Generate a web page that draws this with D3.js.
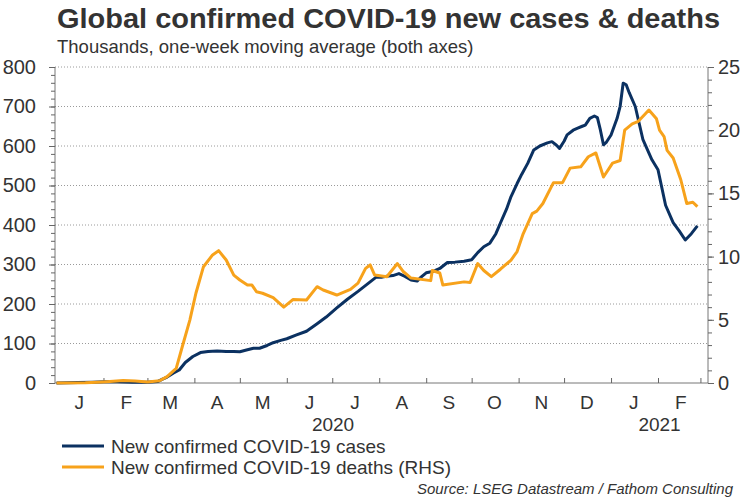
<!DOCTYPE html>
<html><head><meta charset="utf-8">
<script src="https://cdn.jsdelivr.net/npm/d3@7"></script>
<style>
body{margin:0;background:#fff}
text{font-family:"Liberation Sans",Arial,sans-serif;fill:#333}
</style>
</head><body>
<svg id="chart" width="750" height="500"></svg>
<script>
const caseDates = ["2020-01-01","2020-01-15","2020-01-25","2020-02-01","2020-02-10","2020-02-20","2020-03-01","2020-03-08","2020-03-11","2020-03-14","2020-03-18","2020-03-22","2020-03-26","2020-03-31","2020-04-05","2020-04-10","2020-04-16","2020-04-22","2020-04-27","2020-05-01","2020-05-06","2020-05-10","2020-05-14","2020-05-19","2020-05-23","2020-05-28","2020-06-01","2020-06-07","2020-06-14","2020-06-21","2020-06-27","2020-07-04","2020-07-11","2020-07-18","2020-07-22","2020-07-26","2020-07-30","2020-08-03","2020-08-06","2020-08-10","2020-08-14","2020-08-18","2020-08-22","2020-08-26","2020-08-28","2020-09-01","2020-09-06","2020-09-10","2020-09-15","2020-09-20","2020-09-26","2020-10-01","2020-10-05","2020-10-09","2020-10-13","2020-10-17","2020-10-20","2020-10-24","2020-10-27","2020-10-31","2020-11-03","2020-11-07","2020-11-11","2020-11-15","2020-11-20","2020-11-23","2020-11-26","2020-11-28","2020-12-01","2020-12-03","2020-12-07","2020-12-10","2020-12-13","2020-12-15","2020-12-18","2020-12-21","2020-12-23","2020-12-25","2020-12-27","2020-12-29","2021-01-01","2021-01-05","2021-01-07","2021-01-09","2021-01-11","2021-01-13","2021-01-17","2021-01-22","2021-01-28","2021-02-01","2021-02-06","2021-02-11","2021-02-15","2021-02-19","2021-02-23","2021-02-27"];
const caseValues = [0,1,2,3,3,2,2,4,10,15,25,33,52,67,77,80,81,80,80,79,84,88,88,95,102,108,112,121,131,150,167,190,212,232,244,256,268,268,270,272,277,270,261,258,266,279,283,290,305,306,308,312,330,345,354,378,405,440,472,505,528,556,590,600,608,611,602,594,612,628,640,645,650,653,670,676,672,640,603,610,628,670,700,759,755,735,700,617,565,540,450,406,385,362,378,398];

const deathDates = ["2020-01-01","2020-01-20","2020-01-28","2020-02-03","2020-02-14","2020-02-22","2020-03-01","2020-03-09","2020-03-14","2020-03-20","2020-03-24","2020-03-29","2020-04-02","2020-04-07","2020-04-13","2020-04-17","2020-04-22","2020-04-27","2020-05-01","2020-05-06","2020-05-09","2020-05-12","2020-05-16","2020-05-23","2020-05-30","2020-06-05","2020-06-14","2020-06-21","2020-06-25","2020-07-04","2020-07-13","2020-07-18","2020-07-23","2020-07-26","2020-07-29","2020-08-06","2020-08-13","2020-08-17","2020-08-22","2020-09-04","2020-09-05","2020-09-10","2020-09-12","2020-09-26","2020-09-30","2020-10-05","2020-10-09","2020-10-14","2020-10-20","2020-10-27","2020-10-31","2020-11-04","2020-11-10","2020-11-13","2020-11-17","2020-11-24","2020-11-30","2020-12-05","2020-12-12","2020-12-17","2020-12-22","2020-12-27","2021-01-02","2021-01-07","2021-01-10","2021-01-15","2021-01-19","2021-01-26","2021-01-31","2021-02-02","2021-02-05","2021-02-07","2021-02-11","2021-02-16","2021-02-20","2021-02-24","2021-02-27"];
const deathValues = [0,0.02,0.06,0.1,0.2,0.15,0.08,0.18,0.5,1.16,2.87,4.98,7.1,9.2,10.13,10.47,9.73,8.54,8.15,7.75,7.75,7.22,7.1,6.75,6.0,6.6,6.57,7.62,7.36,6.96,7.4,7.9,9.07,9.34,8.54,8.41,9.45,8.8,8.3,8.1,8.9,8.7,7.75,8.0,7.95,9.45,8.9,8.41,9.0,9.73,10.4,11.8,13.4,13.6,14.2,15.85,15.85,17.0,17.1,17.9,18.2,16.3,17.4,17.6,20.0,20.5,20.7,21.6,20.9,20.0,19.5,18.4,17.8,16.1,14.2,14.3,13.95];

const monthLabels = ["J","F","M","A","M","J","J","A","S","O","N","D","J","F"];
const yearLabels = ["2020","2021"];
const leftTicks = [0,100,200,300,400,500,600,700,800];
const rightTicks = [0,5,10,15,20,25];
const seriesNames = ["New confirmed COVID-19 cases","New confirmed COVID-19 deaths (RHS)"];
const titleText = "Global confirmed COVID-19 new cases & deaths";
const subtitleText = "Thousands, one-week moving average (both axes)";
const sourceText = "Source: LSEG Datastream / Fathom Consulting";

const NAVY = "#0b3161", ORANGE = "#f7a21b";
const parse = d3.timeParse("%Y-%m-%d");
const L = 55, R = 708, T = 67, B = 383;

const svg = d3.select("#chart");
const x = d3.scaleTime().domain([parse("2019-12-31"), parse("2021-03-06")]).range([L, R]);
const yL = d3.scaleLinear().domain([0, 800]).range([B, T]);
const yR = d3.scaleLinear().domain([0, 25]).range([B, T]);

// title
svg.append("text").attr("x", 57).attr("y", 28).attr("font-size", 28).attr("font-weight", "bold")
  .attr("textLength", 663).attr("lengthAdjust", "spacingAndGlyphs").text(titleText);
svg.append("text").attr("x", 57).attr("y", 53).attr("font-size", 18.5).text(subtitleText);

// gridlines
svg.append("g").selectAll("line").data(leftTicks.slice(1)).join("line")
  .attr("x1", L).attr("x2", R).attr("y1", d => yL(d)).attr("y2", d => yL(d))
  .attr("stroke", "#9a9a9a").attr("stroke-width", 1).attr("stroke-dasharray", "1,2");

// left axis
const gL = svg.append("g").attr("transform", `translate(${L},0)`);
gL.call(d3.axisLeft(yL).tickValues(d3.range(0, 801, 20)).tickSize(4).tickFormat(""));
gL.selectAll(".tick line").attr("stroke", "#666");
gL.select(".domain").attr("stroke", "#777").attr("d", `M0,${T}V${B}`);
const gL2 = svg.append("g").attr("transform", `translate(${L},0)`);
gL2.call(d3.axisLeft(yL).tickValues(leftTicks).tickSize(6).tickPadding(13));
gL2.select(".domain").remove();
gL2.selectAll(".tick line").attr("stroke", "#666");
gL2.selectAll(".tick text").attr("font-size", 20).attr("font-family", "Liberation Sans, Arial, sans-serif").attr("fill", "#333");

// right axis
const gR = svg.append("g").attr("transform", `translate(${R},0)`);
gR.call(d3.axisRight(yR).tickValues(d3.range(0, 26, 1)).tickSize(4).tickFormat(""));
gR.selectAll(".tick line").attr("stroke", "#666");
gR.select(".domain").attr("stroke", "#777").attr("d", `M0,${T}V${B}`);
const gR2 = svg.append("g").attr("transform", `translate(${R},0)`);
gR2.call(d3.axisRight(yR).tickValues(rightTicks).tickSize(6).tickPadding(4));
gR2.select(".domain").remove();
gR2.selectAll(".tick line").attr("stroke", "#666");
gR2.selectAll(".tick text").attr("font-size", 20).attr("font-family", "Liberation Sans, Arial, sans-serif").attr("fill", "#333");

// bottom axis
const months = d3.timeMonth.range(parse("2020-02-01"), parse("2021-03-02"));
const gB = svg.append("g").attr("transform", `translate(0,${B})`);
gB.call(d3.axisTop(x).tickValues(months).tickSize(5).tickFormat(""));
gB.select(".domain").attr("stroke", "#777").attr("d", `M${L},0H${R}`);
gB.selectAll(".tick line").attr("stroke", "#666");

const monthStarts = d3.timeMonth.range(parse("2020-01-01"), parse("2021-03-01"));
svg.append("g").selectAll("text").data(monthStarts).join("text")
  .attr("x", d => x(d3.timeDay.offset(d, 15)))
  .attr("y", 409).attr("text-anchor", "middle").attr("font-size", 19)
  .text((d, i) => monthLabels[i]);

const yearSpans = [[parse("2019-12-31"), parse("2021-01-01")], [parse("2021-01-01"), parse("2021-03-06")]];
svg.append("g").selectAll("text").data(yearSpans).join("text")
  .attr("x", d => (x(d[0]) + x(d[1])) / 2)
  .attr("y", 431).attr("text-anchor", "middle").attr("font-size", 19)
  .text((d, i) => yearLabels[i]);

// lines
const caseData = caseDates.map((d, i) => ({ date: parse(d), value: caseValues[i] }));
const deathData = deathDates.map((d, i) => ({ date: parse(d), value: deathValues[i] }));
svg.append("path").datum(caseData)
  .attr("fill", "none").attr("stroke", NAVY).attr("stroke-width", 3).attr("stroke-linejoin", "round")
  .attr("d", d3.line().x(d => x(d.date)).y(d => yL(d.value)));
svg.append("path").datum(deathData)
  .attr("fill", "none").attr("stroke", ORANGE).attr("stroke-width", 3).attr("stroke-linejoin", "round")
  .attr("d", d3.line().x(d => x(d.date)).y(d => yR(d.value)));

// legend
const colors = [NAVY, ORANGE];
const lg = svg.append("g").selectAll("g").data(seriesNames).join("g")
  .attr("transform", (d, i) => `translate(62,${446 + i * 21})`);
lg.append("line").attr("x1", 0).attr("x2", 42).attr("stroke", (d, i) => colors[i]).attr("stroke-width", 3);
lg.append("text").attr("x", 49).attr("y", 7).attr("font-size", 19).text(d => d);

// source
svg.append("text").attr("x", 733).attr("y", 494).attr("text-anchor", "end")
  .attr("font-size", 15).attr("font-style", "italic").attr("fill", "#444").text(sourceText);
</script>
</body></html>
